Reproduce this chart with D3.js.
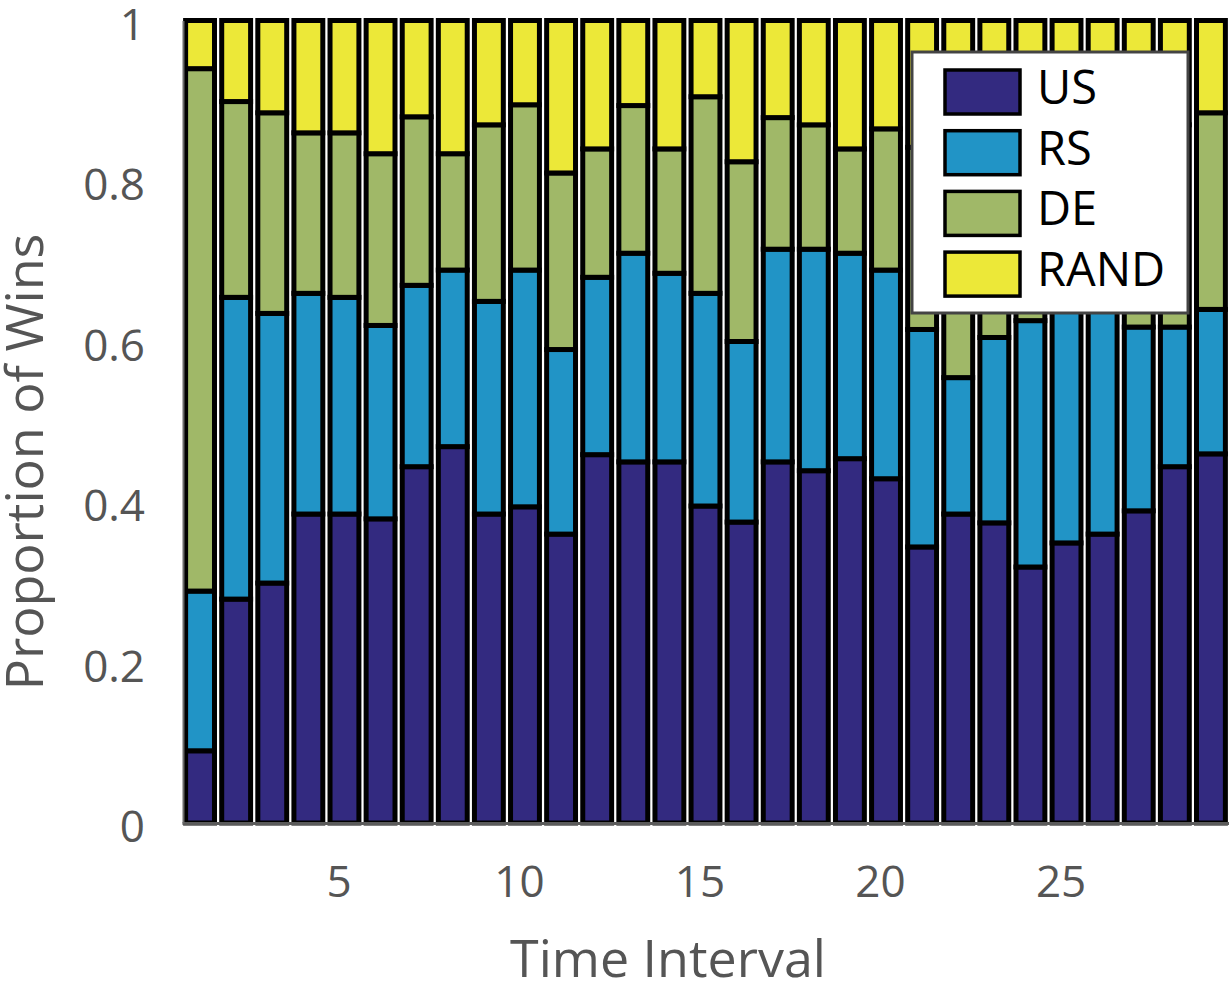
<!DOCTYPE html>
<html>
<head>
<meta charset="utf-8">
<script src="https://cdn.jsdelivr.net/npm/d3@7"></script>
<style>
  body { margin: 0; background: #fff; }
  text { font-family: "Open Sans", sans-serif; }
</style>
</head>
<body>
<figure style="margin:0"></figure>
<script>
// one value per time interval (1..29), each column sums to 1
const intervals = d3.range(1, 30);
const seriesNames = ['US', 'RS', 'DE', 'RAND'];
const usWins   = [0.090, 0.279, 0.299, 0.385, 0.385, 0.379, 0.444, 0.469, 0.385, 0.394,
                  0.360, 0.459, 0.450, 0.450, 0.395, 0.375, 0.450, 0.439, 0.454, 0.429,
                  0.344, 0.385, 0.374, 0.319, 0.349, 0.360, 0.389, 0.444, 0.460];
const rsWins   = [0.199, 0.376, 0.336, 0.275, 0.270, 0.241, 0.226, 0.220, 0.265, 0.295,
                  0.230, 0.221, 0.260, 0.235, 0.265, 0.225, 0.265, 0.276, 0.256, 0.260,
                  0.271, 0.170, 0.231, 0.307, 0.301, 0.290, 0.229, 0.174, 0.180];
const deWins   = [0.651, 0.244, 0.250, 0.200, 0.205, 0.214, 0.210, 0.145, 0.220, 0.206,
                  0.220, 0.160, 0.184, 0.155, 0.245, 0.224, 0.164, 0.155, 0.130, 0.176,
                  0.227, 0.325, 0.265, 0.274, 0.240, 0.230, 0.242, 0.252, 0.245];
const randWins = [0.060, 0.101, 0.115, 0.140, 0.140, 0.166, 0.120, 0.166, 0.130, 0.105,
                  0.190, 0.160, 0.106, 0.160, 0.095, 0.176, 0.121, 0.130, 0.160, 0.135,
                  0.158, 0.120, 0.130, 0.100, 0.110, 0.120, 0.140, 0.130, 0.115];
const xTicks = [5, 10, 15, 20, 25];
const yTicks = [0, 0.2, 0.4, 0.6, 0.8, 1];

(() => {
  const totalWidth = 1229;
  const totalHeight = 984;
  const colors = ['#332a80', '#2194c6', '#a0b868', '#ece838'];

  const rows = intervals.map((t, i) => ({
    t: t, US: usWins[i], RS: rsWins[i], DE: deWins[i], RAND: randWins[i]
  }));

  const svg = d3.select('figure').append('svg')
    .attr('width', totalWidth)
    .attr('height', totalHeight);

  const x = d3.scaleLinear().domain([0.5, 29.5]).range([182, 1229]);
  const y = d3.scaleLinear().domain([0, 1]).range([823, 20.5]);
  const color = d3.scaleOrdinal().domain(seriesNames).range(colors);

  const stacked = d3.stack().keys(seriesNames)(rows);

  svg.append('g').selectAll('g')
    .data(stacked)
    .join('g')
      .attr('fill', (d) => color(d.key))
    .selectAll('rect')
    .data((d) => d)
    .join('rect')
      .attr('x', (d) => x(d.data.t - 0.4))
      .attr('width', x(1.4) - x(0.6))
      .attr('y', (d) => y(d[1]))
      .attr('height', (d) => y(d[0]) - y(d[1]))
      .attr('stroke', '#000')
      .attr('stroke-width', 5);

  const xAxis = d3.axisBottom(x).tickValues(xTicks).tickSize(0).tickSizeOuter(0);
  const yAxis = d3.axisLeft(y).tickValues(yTicks).tickSize(0).tickSizeOuter(0)
    .tickFormat((d) => String(d));

  const xGroup = svg.append('g')
    .attr('transform', `translate(0, ${y(0)})`)
    .call(xAxis);
  xGroup.select('.domain').attr('stroke', '#5a5a5a').attr('stroke-width', 3);
  xGroup.selectAll('text')
    .attr('y', 74).attr('dy', 0).attr('dx', -6)
    .attr('fill', '#555').style('font-size', '44px');

  const yGroup = svg.append('g')
    .attr('transform', 'translate(183, 0)')
    .call(yAxis);
  yGroup.select('.domain').attr('stroke', '#6a6a6a').attr('stroke-width', 2);
  yGroup.selectAll('text')
    .attr('x', -38).attr('dy', 18.5)
    .attr('fill', '#555').style('font-size', '44px');

  svg.append('text')
    .attr('x', 668).attr('y', 977)
    .attr('text-anchor', 'middle')
    .attr('fill', '#555')
    .style('font-size', '52px')
    .text('Time Interval');

  svg.append('text')
    .attr('transform', 'translate(43, 462) rotate(-90)')
    .attr('text-anchor', 'middle')
    .attr('fill', '#555')
    .style('font-size', '52px')
    .text('Proportion of Wins');

  // legend sits over the plot, as in the original figure
  const legend = svg.append('g').attr('transform', 'translate(912, 52)');
  legend.append('rect')
    .attr('width', 276).attr('height', 261)
    .attr('fill', '#fff')
    .attr('stroke', '#444').attr('stroke-width', 3);

  const item = legend.selectAll('g.item')
    .data(seriesNames)
    .join('g')
      .attr('class', 'item')
      .attr('transform', (d, i) => `translate(0, ${40 + i * 60.7})`);
  item.append('rect')
    .attr('x', 33).attr('y', -22)
    .attr('width', 75).attr('height', 44)
    .attr('fill', (d) => color(d))
    .attr('stroke', '#000').attr('stroke-width', 3.5);
  item.append('text')
    .attr('x', 125).attr('y', 12)
    .attr('fill', '#000')
    .style('font-size', '47px')
    .text((d) => d);
})();
</script>
</body>
</html>
